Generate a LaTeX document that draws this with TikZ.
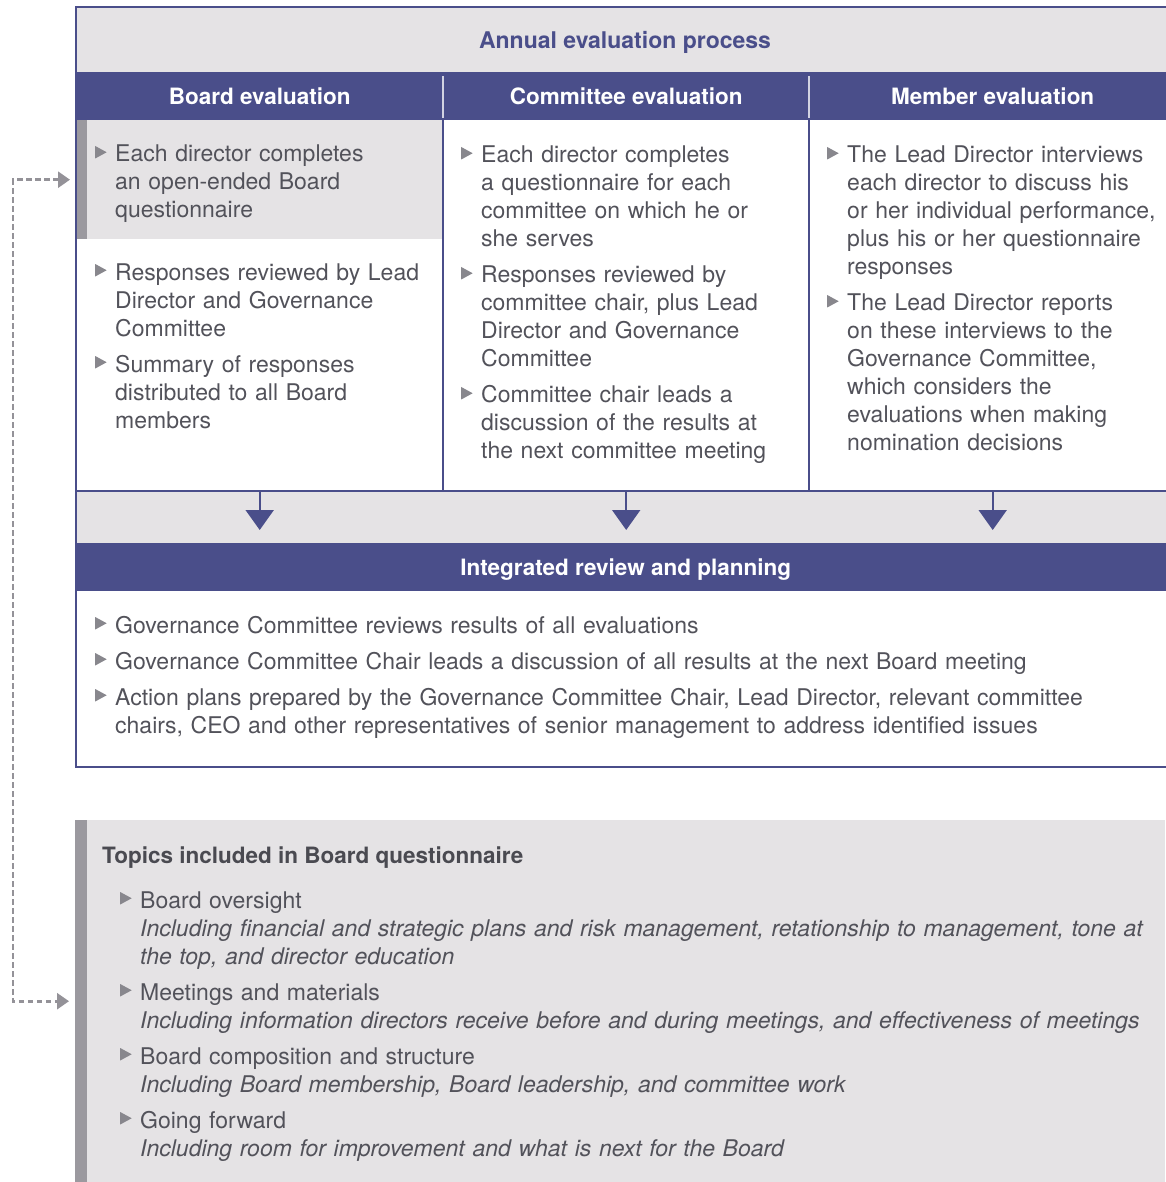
\documentclass[tikz,border=0pt]{standalone}
\usepackage{fontspec}
\setmainfont{TeX Gyre Heros}
\usetikzlibrary{arrows.meta,positioning}

\definecolor{navy}{HTML}{4A4E8A}
\definecolor{panel}{HTML}{E5E3E5}
\definecolor{bargray}{HTML}{9B999F}
\definecolor{linkgray}{HTML}{949298}
\definecolor{ink}{HTML}{52525A}
\definecolor{tipgray}{HTML}{88878D}

\newcommand{\bodyfont}{\fontsize{23}{28}\selectfont}
\newcommand{\headfont}{\bfseries\fontsize{22.5}{26}\selectfont}
% small grey triangle in front of each point
\newcommand{\tri}{\tikz[baseline=0pt,x=1pt,y=1pt]\fill[tipgray] (-0.5,3.5) -- (-0.5,16) -- (11,9.75) -- cycle;}
\newcommand{\itm}{\hangindent=20pt\hangafter=1\noindent\makebox[20pt][l]{\tri}}

\begin{document}
\begin{tikzpicture}[x=1pt,y=-1pt,
    frame/.style={draw=navy,line width=2pt},
    hdr/.style={fill=navy,text=white,font=\headfont,inner sep=0pt,
      text height=16pt,text depth=0pt,minimum height=48pt,anchor=north west},
    items/.style={anchor=base west,inner sep=0pt,text width=#1,align=left,
      font=\bodyfont,text=ink,execute at begin node={\setlength{\parskip}{8pt}}},
    down/.style={draw=navy,line width=2pt,shorten >=13pt,
      -{Triangle[width=28pt,length=20pt]}},
    link/.style={draw=linkgray,line width=2.6pt,dash pattern=on 5.5pt off 3.5pt,
      shorten >=6pt,shorten <=6pt,
      {Triangle[width=16pt,length=12pt]}-{Triangle[width=16pt,length=12pt]}}]

\useasboundingbox (0,0) rectangle (1165,1182);

% title band
\node[fill=panel,inner sep=0pt,minimum width=1099pt,minimum height=65pt,anchor=north west] (top) at (76,7) {};
\node[font=\bfseries\fontsize{23}{26}\selectfont,text=navy,text height=16pt,text depth=0pt,inner sep=0pt] (title) at (625,41) {Annual evaluation process};

% column headers
\node[hdr,minimum width=367pt] (hb) at (76,72) {Board evaluation};
\node[hdr,minimum width=366pt] (hc) at (443,72) {Committee evaluation};
\node[hdr,minimum width=367pt] (hm) at (809,72) {Member evaluation};

% grey box holding the questionnaire step
\node[fill=panel,inner sep=0pt,minimum width=367pt,minimum height=119pt,anchor=north west] (q1) at (76,120) {};
\fill[bargray] (77,120) rectangle (87,239);

% column texts
\node[items=400pt] (t1a) at (95,162) {\itm Each director completes\newline an open-ended Board\newline questionnaire\par};
\node[items=400pt] (t1b) at (95,280) {\itm Responses reviewed by Lead\newline Director and Governance\newline Committee\par
  \itm Summary of responses\newline distributed to all Board\newline members\par};
\node[items=400pt] (t2) at (461,163) {\itm Each director completes\newline a questionnaire for each\newline committee on which he or\newline she serves\par
  \itm Responses reviewed by\newline committee chair, plus Lead\newline Director and Governance\newline Committee\par
  \itm Committee chair leads a\newline discussion of the results at\newline the next committee meeting\par};
\node[items=400pt] (t3) at (827,163) {\itm The Lead Director interviews\newline each director to discuss his\newline or her individual performance,\newline plus his or her questionnaire\newline responses\par
  \itm The Lead Director reports\newline on these interviews to the\newline Governance Committee,\newline which considers the\newline evaluations when making\newline nomination decisions\par};

% band between columns and review
\fill[panel] (76,491) rectangle (1175,543);
\coordinate (colbot) at (76,491);

% frame lines
\draw[frame] (1175,7) -- (76,7) -- (76,767) -- (1175,767);
\draw[frame] (colbot) -- (1175,491);
\draw[frame] (hc.south west) -- (hc.south west |- colbot);
\draw[frame] (hm.south west) -- (hm.south west |- colbot);
\draw[white!75!navy,line width=1.5pt] (443,76) -- (443,118) (809,76) -- (809,118);

% integrated review
\node[hdr,minimum width=1099pt] (ir) at (76,543) {Integrated review and planning};
\draw[down] (hb.south |- colbot) -- (hb.south |- ir.north);
\draw[down] (hc.south |- colbot) -- (hc.south |- ir.north);
\draw[down] (hm.south |- colbot) -- (hm.south |- ir.north);

\node[items=1060pt] (t4) at (95,633) {\itm Governance Committee reviews results of all evaluations\par
  \itm Governance Committee Chair leads a discussion of all results at the next Board meeting\par
  \itm Action plans prepared by the Governance Committee Chair, Lead Director, relevant committee\newline chairs, CEO and other representatives of senior management to address identified issues\par};

% questionnaire topics
\node[fill=panel,inner sep=0pt,minimum width=1090pt,minimum height=362pt,anchor=north west] (topics) at (75,820) {};
\fill[bargray] (75,820) rectangle (87,1182);
\node[font=\headfont,text=ink!90!black,anchor=base west,inner sep=0pt] (th) at (102,863) {Topics included in Board questionnaire};
\node[items=1040pt] (t5) at (120,908) {\itm Board oversight\newline \textit{Including financial and strategic plans and risk management, retationship to management, tone at}\newline \textit{the top, and director education}\par
  \itm Meetings and materials\newline \textit{Including information directors receive before and during meetings, and effectiveness of meetings}\par
  \itm Board composition and structure\newline \textit{Including Board membership, Board leadership, and committee work}\par
  \itm Going forward\newline \textit{Including room for improvement and what is next for the Board}\par};

% questionnaire link
\draw[link] (q1.west) -- ++(-63,0) |- (topics.west);

\end{tikzpicture}
\end{document}
